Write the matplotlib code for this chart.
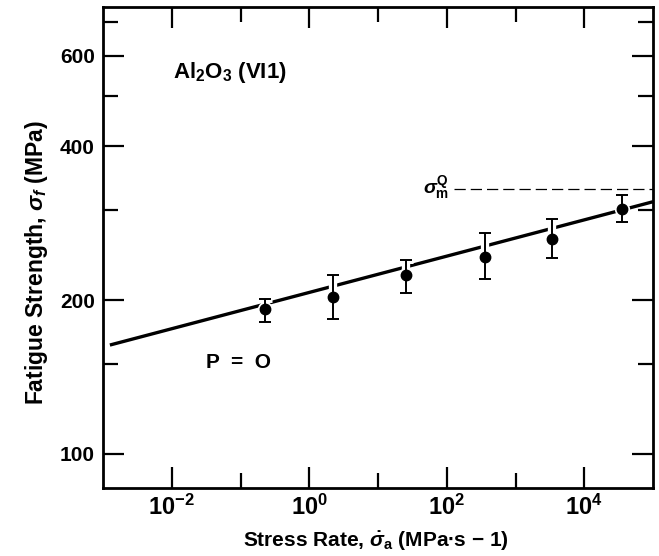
import numpy as np
import matplotlib
matplotlib.use("Agg")
import matplotlib.pyplot as plt
from matplotlib.ticker import FixedLocator, NullFormatter, FuncFormatter

plt.rcParams['font.family'] = ['Liberation Sans', 'DejaVu Sans']
plt.rcParams['font.weight'] = 'bold'
plt.rcParams['mathtext.fontset'] = 'custom'
plt.rcParams['mathtext.rm'] = 'Liberation Sans:bold'
plt.rcParams['mathtext.bf'] = 'Liberation Sans:bold'
plt.rcParams['mathtext.it'] = 'Liberation Sans:italic'

# dynamic fatigue data, Al2O3 (VI1)
stress_rate = [0.228, 2.18, 25.2, 364, 3360, 35500]
strength = [192.0, 203.0, 223.8, 242.4, 263.2, 300.8]
err_low = [181.4, 183.4, 206.7, 219.5, 241.6, 284.1]
err_high = [200.6, 223.8, 239.4, 270.1, 288.0, 320.8]

# fitted power law line (ends)
fit_rate = [1.26e-3, 1.0e5]
fit_strength = [163.3, 311.3]

sigma_m = 330.0

y_major = [100, 200, 400, 600]
y_minor = [150, 300, 500, 700]
x_major = [1e-2, 1e0, 1e2, 1e4]
x_minor = [1e-1, 1e1, 1e3]

fig = plt.figure(figsize=(6.59, 5.56), dpi=100)
ax = fig.add_axes([103/659, 1-488/556, 550/659, 481/556])
ax.set_xscale('log')
ax.set_yscale('log')
ax.set_xlim(1.0e-3, 1.0e5)
ax.set_ylim(85.8, 748)

ax.plot(fit_rate, fit_strength, color='black', lw=2.4, solid_capstyle='butt', zorder=2)

yerr = [np.array(strength) - np.array(err_low), np.array(err_high) - np.array(strength)]
# white halo so the fit line breaks around each point
ax.errorbar(stress_rate, strength, yerr=yerr, fmt='o', color='white', ms=10,
            elinewidth=6, capsize=5, capthick=5, zorder=3)
ax.errorbar(stress_rate, strength, yerr=yerr, fmt='o', color='black', ms=7.5,
            elinewidth=1.4, capsize=4, capthick=1.4, zorder=4)

ax.plot([1.26e2, 1e5], [sigma_m, sigma_m], color='black', lw=0.9,
        dashes=(9, 4), zorder=1)
ax.text(1.07e2, sigma_m, r'$\mathit{\sigma}_{\mathbf{m}}^{\mathbf{Q}}$', ha='right', va='center',
        fontsize=14)

ax.text(0.069, 558, r'Al$_2$O$_3$ (VI1)', fontsize=16, fontweight='bold', ha='center', va='center')
ax.text(0.0935, 151, 'P  =  O', fontsize=15, fontweight='bold', ha='center', va='center')

ax.yaxis.set_major_locator(FixedLocator(y_major))
ax.yaxis.set_minor_locator(FixedLocator(y_minor))
ax.yaxis.set_major_formatter(FuncFormatter(lambda v, p: '%d' % v))
ax.yaxis.set_minor_formatter(NullFormatter())
ax.xaxis.set_major_locator(FixedLocator(x_major))
ax.xaxis.set_minor_locator(FixedLocator(x_minor))
ax.xaxis.set_major_formatter(FuncFormatter(
    lambda v, p: r'$\mathbf{10^{%d}}$' % int(round(np.log10(v)))))
ax.xaxis.set_minor_formatter(NullFormatter())

ax.tick_params(which='both', direction='in', top=True, right=True, width=1.6)
ax.tick_params(which='major', length=15, pad=6)
ax.tick_params(axis='y', which='major', labelsize=15)
ax.tick_params(axis='x', which='major', labelsize=17, pad=5)
ax.tick_params(which='minor', length=11)
for s in ax.spines.values():
    s.set_linewidth(2)

ax.set_xlabel(r'Stress Rate, $\dot{\mathit{\sigma}}_\mathbf{a}$ (MPa$\bullet$s $-$ 1)', fontsize=15,
              fontweight='bold')
ax.set_ylabel(r'Fatigue Strength, $\mathit{\sigma}_\mathit{f}$ (MPa)', fontsize=16.5, fontweight='bold')
ax.xaxis.set_label_coords(0.496, -0.087)
ax.yaxis.set_label_coords(-0.097, 0.469)

fig.savefig('out.png', dpi=100)
